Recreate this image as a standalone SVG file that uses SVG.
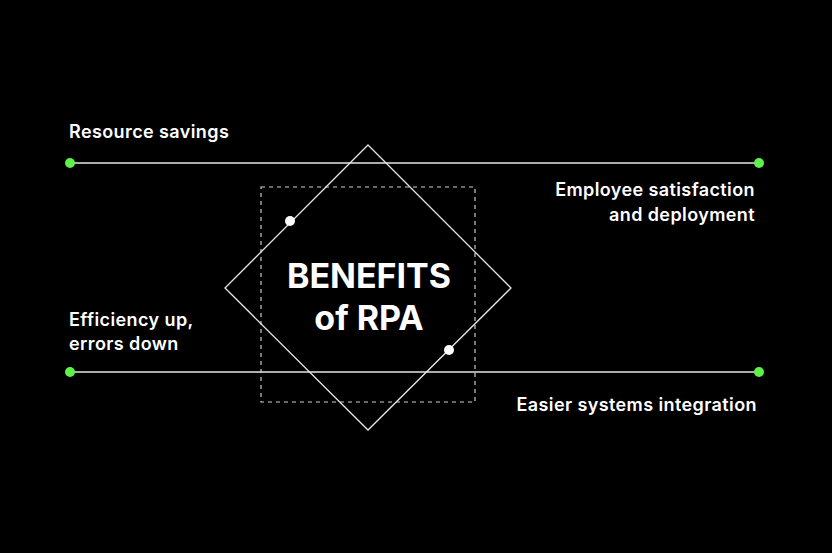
<svg xmlns="http://www.w3.org/2000/svg" width="832" height="553" viewBox="0 0 832 553">
<style>
.ln{stroke:#e6e6e6;stroke-width:1.3;fill:none}
.g{fill:#5cf24a}
.w{fill:#fff}
.lb{font-family:Inter,"Open Sans",sans-serif;font-weight:600;font-size:18px;letter-spacing:0.4px;fill:#fff}
.tt{font-family:Inter,"Open Sans",sans-serif;font-weight:700;font-size:34px;fill:#fff}
</style>
<rect width="832" height="553" fill="#000"/>
<g id="connectors">
<line class="ln" x1="70" y1="163" x2="759" y2="163"/>
<line class="ln" x1="70" y1="372" x2="759" y2="372"/>
</g>
<g id="center">
<rect x="261" y="187" width="214" height="215" fill="none" stroke="#cfcfcf" stroke-width="1.2" stroke-dasharray="4 4"/>
<polygon class="ln" points="368,145 511,288 368,430 225,288"/>
<circle class="w" cx="290" cy="221" r="5"/>
<circle class="w" cx="449" cy="350" r="5"/>
<text class="tt" x="369" y="288" text-anchor="middle">BENEFITS</text>
<text class="tt" x="369" y="330" text-anchor="middle">of RPA</text>
</g>
<g id="n1"><circle class="g" cx="70" cy="163" r="5"/><text class="lb" x="69" y="138">Resource savings</text></g>
<g id="n2"><circle class="g" cx="759" cy="163" r="5"/><text class="lb" x="755" y="196" text-anchor="end">Employee satisfaction</text><text class="lb" x="755" y="221" text-anchor="end">and deployment</text></g>
<g id="n3"><circle class="g" cx="70" cy="372" r="5"/><text class="lb" x="69" y="326">Efficiency up,</text><text class="lb" x="69" y="350">errors down</text></g>
<g id="n4"><circle class="g" cx="759" cy="372" r="5"/><text class="lb" x="757" y="411" text-anchor="end">Easier systems integration</text></g>
</svg>
